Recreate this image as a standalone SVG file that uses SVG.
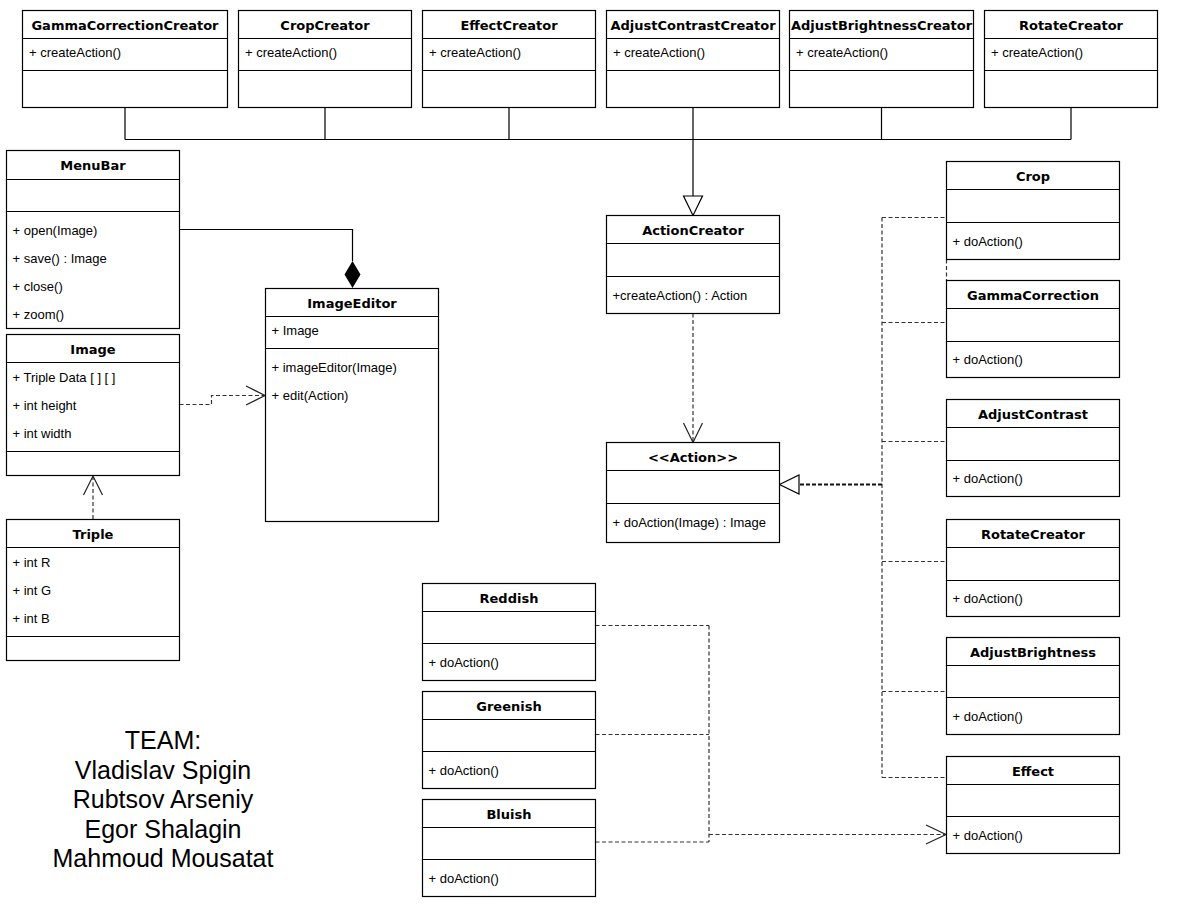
<svg xmlns="http://www.w3.org/2000/svg" width="1178" height="912" viewBox="0 0 1178 912">
<style>
.node rect{fill:#fff;stroke:#000;stroke-width:1.2}
.node line{stroke:#000;stroke-width:1.2}
.h{font-family:"DejaVu Sans",Verdana,sans-serif;font-weight:bold;font-size:13px;text-anchor:middle;fill:#000}
.t{font-family:"Liberation Sans",Arial,sans-serif;font-size:13px;fill:#000}
.team{font-family:"Liberation Sans",Arial,sans-serif;font-size:25px;text-anchor:middle;fill:#000}
.solid{fill:none;stroke:#000;stroke-width:1.2}
.dash{fill:none;stroke:#333;stroke-width:1.2;stroke-dasharray:4 2.5}
.dashb{fill:none;stroke:#111;stroke-width:2;stroke-dasharray:4 2}
.open{fill:none;stroke:#222;stroke-width:1.2}
.tri{fill:#fff;stroke:#000;stroke-width:1.2}
</style>
<rect width="1178" height="912" fill="#fff"/>

<g id="connectors">
<path class="solid" d="M125 107.5V139.5M325 107.5V139.5M509 107.5V139.5M881.5 107.5V139.5M1071 107.5V139.5M125 139.5H1071M693 107.5V196"/>
<polygon class="tri" points="683.5,196 702.5,196 693,215.5"/>
<path class="solid" d="M179.5 229.5H352.5V261"/>
<polygon points="352.5,261 360.5,274.5 352.5,288 344.5,274.5" fill="#000"/>
<path class="dash" d="M179.5 404.5H211.5V395.5H264"/>
<path class="open" d="M246 386L265 395.5L246 405"/>
<path class="dash" d="M93 519V477"/>
<path class="open" d="M83.5 495L93 476L102.5 495"/>
<path class="dash" d="M693 313.5V441"/>
<path class="open" d="M683.5 423L693 442.5L702.5 423"/>
<path class="dash" d="M882 217.5V777.5M882 217.5H946.5M882 322.5H946.5M882 441.5H946.5M882 561.5H946.5M882 691.5H946.5M882 777.5H946.5M946.5 259.5V280.5"/>
<path class="dashb" d="M882 484.5H799"/>
<polygon class="tri" points="779.5,484.5 799,475 799,494"/>
<path class="dash" d="M595.5 625.5H709M595.5 734.5H709M595.5 842H709M709 625.5V842M709 834.5H945"/>
<path class="open" d="M926 825L946 834.5L926 844"/>
</g>

<g id="GammaCorrectionCreator" class="node"><rect x="22.5" y="10.5" width="205" height="97"/><line x1="22.5" y1="38.5" x2="227.5" y2="38.5"/><line x1="22.5" y1="70.5" x2="227.5" y2="70.5"/><text class="h" x="125" y="30">GammaCorrectionCreator</text><text class="t" x="29" y="57">+ createAction()</text></g>
<g id="CropCreator" class="node"><rect x="238.5" y="10.5" width="173" height="97"/><line x1="238.5" y1="38.5" x2="411.5" y2="38.5"/><line x1="238.5" y1="70.5" x2="411.5" y2="70.5"/><text class="h" x="325" y="30">CropCreator</text><text class="t" x="245" y="57">+ createAction()</text></g>
<g id="EffectCreator" class="node"><rect x="422.5" y="10.5" width="173" height="97"/><line x1="422.5" y1="38.5" x2="595.5" y2="38.5"/><line x1="422.5" y1="70.5" x2="595.5" y2="70.5"/><text class="h" x="509" y="30">EffectCreator</text><text class="t" x="429" y="57">+ createAction()</text></g>
<g id="AdjustContrastCreator" class="node"><rect x="606.5" y="10.5" width="173" height="97"/><line x1="606.5" y1="38.5" x2="779.5" y2="38.5"/><line x1="606.5" y1="70.5" x2="779.5" y2="70.5"/><text class="h" x="693" y="30">AdjustContrastCreator</text><text class="t" x="613" y="57">+ createAction()</text></g>
<g id="AdjustBrightnessCreator" class="node"><rect x="789.5" y="10.5" width="184" height="97"/><line x1="789.5" y1="38.5" x2="973.5" y2="38.5"/><line x1="789.5" y1="70.5" x2="973.5" y2="70.5"/><text class="h" x="881.5" y="30">AdjustBrightnessCreator</text><text class="t" x="796" y="57">+ createAction()</text></g>
<g id="RotateCreatorTop" class="node"><rect x="984.5" y="10.5" width="173" height="97"/><line x1="984.5" y1="38.5" x2="1157.5" y2="38.5"/><line x1="984.5" y1="70.5" x2="1157.5" y2="70.5"/><text class="h" x="1071" y="30">RotateCreator</text><text class="t" x="991" y="57">+ createAction()</text></g>

<g id="MenuBar" class="node"><rect x="6.5" y="150.5" width="173" height="178"/><line x1="6.5" y1="179.5" x2="179.5" y2="179.5"/><line x1="6.5" y1="211.5" x2="179.5" y2="211.5"/><text class="h" x="93" y="170">MenuBar</text><text class="t" x="12.5" y="235">+ open(Image)</text><text class="t" x="12.5" y="263">+ save() : Image</text><text class="t" x="12.5" y="291">+ close()</text><text class="t" x="12.5" y="319">+ zoom()</text></g>
<g id="Image" class="node"><rect x="6.5" y="334.5" width="173" height="141"/><line x1="6.5" y1="362.5" x2="179.5" y2="362.5"/><line x1="6.5" y1="451.5" x2="179.5" y2="451.5"/><text class="h" x="93" y="354">Image</text><text class="t" x="12.5" y="382">+ Triple Data [ ] [ ]</text><text class="t" x="12.5" y="410">+ int height</text><text class="t" x="12.5" y="438">+ int width</text></g>
<g id="Triple" class="node"><rect x="6.5" y="519.5" width="173" height="141"/><line x1="6.5" y1="547.5" x2="179.5" y2="547.5"/><line x1="6.5" y1="636.5" x2="179.5" y2="636.5"/><text class="h" x="93" y="539">Triple</text><text class="t" x="12.5" y="567">+ int R</text><text class="t" x="12.5" y="595">+ int G</text><text class="t" x="12.5" y="623">+ int B</text></g>
<g id="ImageEditor" class="node"><rect x="265.5" y="288.5" width="173" height="233"/><line x1="265.5" y1="316.5" x2="438.5" y2="316.5"/><line x1="265.5" y1="348.5" x2="438.5" y2="348.5"/><text class="h" x="352" y="308">ImageEditor</text><text class="t" x="271.5" y="335">+ Image</text><text class="t" x="271.5" y="372">+ imageEditor(Image)</text><text class="t" x="271.5" y="400">+ edit(Action)</text></g>

<g id="ActionCreator" class="node"><rect x="606.5" y="215.5" width="173" height="98"/><line x1="606.5" y1="243.5" x2="779.5" y2="243.5"/><line x1="606.5" y1="276.5" x2="779.5" y2="276.5"/><text class="h" x="693" y="235">ActionCreator</text><text class="t" x="612.5" y="300">+createAction() : Action</text></g>
<g id="Action" class="node"><rect x="606.5" y="442.5" width="173" height="100"/><line x1="606.5" y1="470.5" x2="779.5" y2="470.5"/><line x1="606.5" y1="503.5" x2="779.5" y2="503.5"/><text class="h" x="693" y="462">&lt;&lt;Action&gt;&gt;</text><text class="t" x="612.5" y="527">+ doAction(Image) : Image</text></g>

<g id="Crop" class="node"><rect x="946.5" y="161.5" width="173" height="98"/><line x1="946.5" y1="189.5" x2="1119.5" y2="189.5"/><line x1="946.5" y1="222.5" x2="1119.5" y2="222.5"/><text class="h" x="1033" y="181">Crop</text><text class="t" x="952.5" y="246">+ doAction()</text></g>
<g id="GammaCorrection" class="node"><rect x="946.5" y="280.5" width="173" height="97"/><line x1="946.5" y1="308.5" x2="1119.5" y2="308.5"/><line x1="946.5" y1="341.5" x2="1119.5" y2="341.5"/><text class="h" x="1033" y="300">GammaCorrection</text><text class="t" x="952.5" y="364">+ doAction()</text></g>
<g id="AdjustContrast" class="node"><rect x="946.5" y="399.5" width="173" height="97"/><line x1="946.5" y1="427.5" x2="1119.5" y2="427.5"/><line x1="946.5" y1="460.5" x2="1119.5" y2="460.5"/><text class="h" x="1033" y="419">AdjustContrast</text><text class="t" x="952.5" y="483">+ doAction()</text></g>
<g id="RotateCreator" class="node"><rect x="946.5" y="519.5" width="173" height="97"/><line x1="946.5" y1="547.5" x2="1119.5" y2="547.5"/><line x1="946.5" y1="580.5" x2="1119.5" y2="580.5"/><text class="h" x="1033" y="539">RotateCreator</text><text class="t" x="952.5" y="603">+ doAction()</text></g>
<g id="AdjustBrightness" class="node"><rect x="946.5" y="637.5" width="173" height="97"/><line x1="946.5" y1="665.5" x2="1119.5" y2="665.5"/><line x1="946.5" y1="697.5" x2="1119.5" y2="697.5"/><text class="h" x="1033" y="657">AdjustBrightness</text><text class="t" x="952.5" y="721">+ doAction()</text></g>
<g id="Effect" class="node"><rect x="946.5" y="756.5" width="173" height="97"/><line x1="946.5" y1="784.5" x2="1119.5" y2="784.5"/><line x1="946.5" y1="816.5" x2="1119.5" y2="816.5"/><text class="h" x="1033" y="776">Effect</text><text class="t" x="952.5" y="840">+ doAction()</text></g>

<g id="Reddish" class="node"><rect x="422.5" y="583.5" width="173" height="97"/><line x1="422.5" y1="611.5" x2="595.5" y2="611.5"/><line x1="422.5" y1="643.5" x2="595.5" y2="643.5"/><text class="h" x="509" y="603">Reddish</text><text class="t" x="428.5" y="667">+ doAction()</text></g>
<g id="Greenish" class="node"><rect x="422.5" y="691.5" width="173" height="97"/><line x1="422.5" y1="719.5" x2="595.5" y2="719.5"/><line x1="422.5" y1="751.5" x2="595.5" y2="751.5"/><text class="h" x="509" y="711">Greenish</text><text class="t" x="428.5" y="775">+ doAction()</text></g>
<g id="Bluish" class="node"><rect x="422.5" y="799.5" width="173" height="97"/><line x1="422.5" y1="827.5" x2="595.5" y2="827.5"/><line x1="422.5" y1="859.5" x2="595.5" y2="859.5"/><text class="h" x="509" y="819">Bluish</text><text class="t" x="428.5" y="883">+ doAction()</text></g>

<g id="team">
<text class="team" x="163" y="749">TEAM:</text>
<text class="team" x="163" y="778.5">Vladislav Spigin</text>
<text class="team" x="163" y="808">Rubtsov Arseniy</text>
<text class="team" x="163" y="837.5">Egor Shalagin</text>
<text class="team" x="163" y="867">Mahmoud Mousatat</text>
</g>
</svg>
